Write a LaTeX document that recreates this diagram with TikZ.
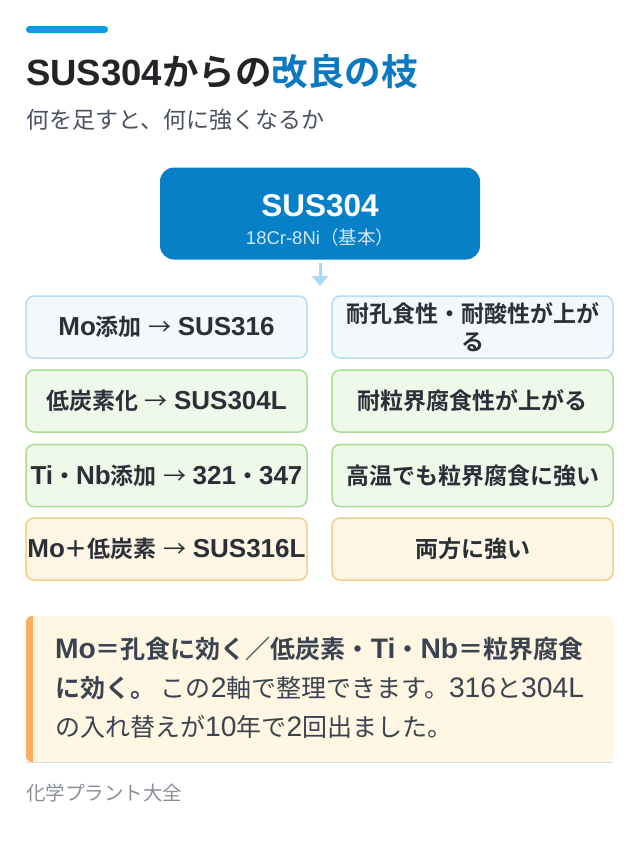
\documentclass[tikz,border=0pt]{standalone}
\usepackage{fontspec}
\setmainfont{Noto Sans CJK JP}[BoldFont={* Bold}]
\newfontfamily\latN{Liberation Sans}[NFSSFamily=latn]
\newfontfamily\latW{Liberation Sans}[Scale=1.13, NFSSFamily=latw]
\newcommand\LWb[1]{{\fontfamily{latw}\fontseries{b}\selectfont #1}}
\newcommand\LWr[1]{{\fontfamily{latw}\fontseries{m}\selectfont #1}}
\newcommand\LNb[1]{{\fontfamily{latn}\fontseries{b}\selectfont #1}}
\newcommand\LNr[1]{{\fontfamily{latn}\fontseries{m}\selectfont #1}}
\usetikzlibrary{arrows.meta}
\definecolor{accent}{HTML}{0A9BE8}
\definecolor{titleblue}{HTML}{0B79C1}
\definecolor{ink}{HTML}{222428}
\definecolor{subc}{HTML}{4A5260}
\definecolor{rootfill}{HTML}{0880C8}
\definecolor{rootsub}{HTML}{CFE7F7}
\definecolor{arrowc}{HTML}{A9D9F6}
\definecolor{bfill}{HTML}{F3F8FC}
\definecolor{bline}{HTML}{B5DDF6}
\definecolor{gfill}{HTML}{EEF9EA}
\definecolor{gline}{HTML}{A7DD95}
\definecolor{ofill}{HTML}{FFF6E5}
\definecolor{oline}{HTML}{F2CD8C}
\definecolor{boxtext}{HTML}{2A2F38}
\definecolor{notefill}{HTML}{FFF7E3}
\definecolor{notebar}{HTML}{FFAD5C}
\definecolor{notetext}{HTML}{3B4350}
\definecolor{rulec}{HTML}{D5DCE3}
\definecolor{footc}{HTML}{8A9099}
\tikzset{
  cell/.style={rounded corners=8pt, line width=1.5pt, minimum width=281pt,
    minimum height=62pt, inner sep=0pt},
  bluecell/.style={cell, draw=bline, fill=bfill},
  greencell/.style={cell, draw=gline, fill=gfill},
  orangecell/.style={cell, draw=oline, fill=ofill},
  celltext/.style={inner sep=0pt, align=center,
    font=\fontsize{23}{28}\selectfont\bfseries, text=boxtext},
  notetxt/.style={anchor=base west, inner sep=0pt, text=notetext,
    font=\fontsize{25}{30}\selectfont}
}
\newcommand\arr{\hspace{0.28em}{\mdseries →}\hspace{0.28em}}
\begin{document}
\begin{tikzpicture}[x=1pt,y=-1pt]
\useasboundingbox (0,0) rectangle (640,844);
\fill[white] (0,0) rectangle (640,844);
% top accent bar
\fill[accent, rounded corners=3.5pt] (26,26) rectangle (108,33);
% title and subtitle
\node[anchor=base west, inner sep=0pt] (title) at (26,85)
  {\fontsize{36.5}{42}\selectfont\bfseries\color{ink}\LNb{SUS304}からの\color{titleblue}改良の枝};
\node[anchor=west, inner sep=0pt, text=subc] (subtitle) at (26,120)
  {\fontsize{23}{26}\selectfont 何を足すと、何に強くなるか};
% root
\node[fill=rootfill, rounded corners=14pt, minimum width=320pt, minimum height=92pt,
  inner sep=0pt] (root) at (320,213.5) {};
\node[inner sep=0pt, text=white, font=\fontsize{31.5}{36}\selectfont]
  (rootT) at (320,206) {\LNb{SUS304}};
\node[inner sep=0pt, text=rootsub, font=\fontsize{18.5}{22}\selectfont]
  (rootS) at (320,237) {\LNr{18Cr-8Ni}（基本）};
\coordinate (arrS) at (320,263);
\coordinate (arrE) at (320,286);
\draw[arrowc, line width=3pt, -{Triangle[width=16pt,length=10pt]}] (arrS) -- (arrE);
% grid boxes
\node[bluecell] (c11) at (166.5,327) {};
\node[bluecell] (c12) at (472.5,327) {};
\node[greencell] (c21) at (166.5,401) {};
\node[greencell] (c22) at (472.5,401) {};
\node[greencell] (c31) at (166.5,475.5) {};
\node[greencell] (c32) at (472.5,475.5) {};
\node[orangecell] (c41) at (166.5,549) {};
\node[orangecell] (c42) at (472.5,549) {};
% grid texts
\node[celltext] (t11) at (c11.center) {\LWb{Mo}添加\arr\LWb{SUS316}};
\node[celltext] (t12) at (c12.center) {耐孔食性・耐酸性が上が\\る};
\node[celltext] (t21) at (c21.center) {低炭素化\arr\LWb{SUS304L}};
\node[celltext] (t22) at (c22.center) {耐粒界腐食性が上がる};
\node[celltext] (t31) at (c31.center) {\LWb{Ti}・\LWb{Nb}添加\arr\LWb{321}・\LWb{347}};
\node[celltext] (t32) at (c32.center) {高温でも粒界腐食に強い};
\node[celltext] (t41) at (c41.center) {\LWb{Mo}＋低炭素\arr\LWb{SUS316L}};
\node[celltext] (t42) at (c42.center) {両方に強い};
% note
\begin{scope}
\clip[rounded corners=6pt] (26,616) rectangle (613,762);
\fill[notefill] (26,616) rectangle (613,762);
\fill[notebar] (26,616) rectangle (33,762);
\end{scope}
\draw[rulec, line width=1pt] (26,762.5) -- (613,762.5);
\node[notetxt] (n1) at (55,658) {\bfseries \LWb{Mo}＝孔食に効く／低炭素・\LWb{Ti}・\LWb{Nb}＝粒界腐食};
\node[notetxt] (n2) at (55,697) {\textbf{に効く。} この\LWr{2}軸で整理できます。\LWr{316}と\LWr{304L}};
\node[notetxt] (n3) at (55,736) {の入れ替えが\LWr{10}年で\LWr{2}回出ました。};
% footer
\node[anchor=west, inner sep=0pt, text=footc, font=\fontsize{19.5}{22}\selectfont]
  (foot) at (26,793) {化学プラント大全};
\end{tikzpicture}
\end{document}
